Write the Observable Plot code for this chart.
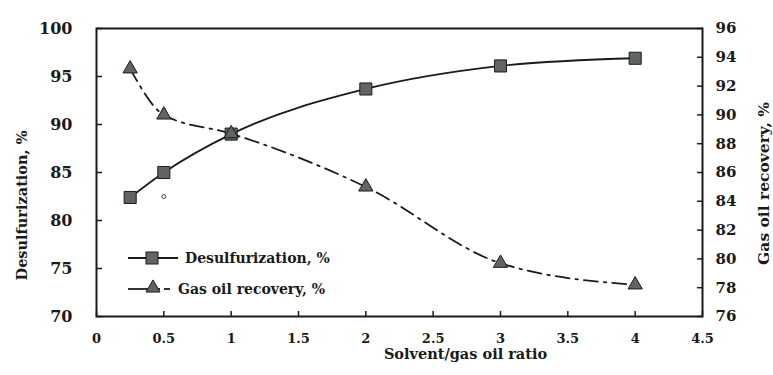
<!DOCTYPE html>
<html><head><meta charset="utf-8">
<script src="https://cdn.jsdelivr.net/npm/d3@7"></script>
<script src="https://cdn.jsdelivr.net/npm/@observablehq/plot@0.6"></script>
<style>
body{margin:0;background:#fff;}
#wrap{position:relative;width:773px;height:375px;font-family:"DejaVu Serif",serif;font-weight:bold;color:#1a1a1a;}
#legend{position:absolute;left:124px;top:244px;}
</style></head><body>
<div id="wrap"><div id="chart"></div><div id="legend"></div></div>
<script>
// ---- data ----
const ratio = [0.25, 0.5, 1, 2, 3, 4];
const desulfurization = [82.4, 85, 89, 93.7, 96.1, 96.9];
const gasOilRecovery = [93.2, 90, 88.7, 85, 79.7, 78.2];
const xTicks = [0, 0.5, 1, 1.5, 2, 2.5, 3, 3.5, 4, 4.5];
const leftTicks = [70, 75, 80, 85, 90, 95, 100];
const rightTicks = [76, 78, 80, 82, 84, 86, 88, 90, 92, 94, 96];
const strayMark = [{x: 0.5, y: 82.5}];
const seriesNames = ["Desulfurization, %", "Gas oil recovery, %"];
const xTitle = "Solvent/gas oil ratio";

// right axis (76–96) mapped onto the left scale (70–100)
const leftDomain = [70, 100], rightDomain = [76, 96];
const k = (leftDomain[1] - leftDomain[0]) / (rightDomain[1] - rightDomain[0]);
const toLeft = g => leftDomain[0] + (g - rightDomain[0]) * k;
const toRight = v => rightDomain[0] + (v - leftDomain[0]) / k;

const dData = ratio.map((x, i) => ({x, y: desulfurization[i]}));
const gData = ratio.map((x, i) => ({x, y: toLeft(gasOilRecovery[i])}));

const ink = "#1a1a1a", fillGray = "#5f6662";
const font = '"DejaVu Serif",serif';

const chart = Plot.plot({
  width: 773, height: 375,
  marginLeft: 96, marginRight: 71, marginTop: 28, marginBottom: 59,
  style: {fontFamily: font, fontWeight: "bold", background: "#fff", color: ink, overflow: "visible"},
  x: {domain: [0, 4.5]},
  y: {domain: leftDomain},
  marks: [
    Plot.axisX(xTicks, {tickSize: -5, tickPadding: 22, fontSize: 13, tickFormat: d => String(d), label: null, strokeWidth: 1.5}),
    Plot.axisY(leftTicks, {tickSize: -6, tickPadding: 30, fontSize: 16, tickFormat: d => String(d), label: null, strokeWidth: 1.5}),
    Plot.axisY(rightTicks.map(toLeft), {anchor: "right", tickSize: -6, tickPadding: 19, fontSize: 15, tickFormat: d => String(Math.round(toRight(d))), label: null, strokeWidth: 1.5}),
    Plot.frame({stroke: ink, strokeWidth: 2}),
    Plot.line(dData, {x: "x", y: "y", curve: "monotone-x", stroke: ink, strokeWidth: 1.8}),
    Plot.line(gData, {x: "x", y: "y", curve: "monotone-x", stroke: ink, strokeWidth: 1.8, strokeDasharray: "14,6,2.5,6"}),
    Plot.dot(dData, {x: "x", y: "y", symbol: "square", r: 6.8, fill: fillGray, stroke: ink, strokeWidth: 1}),
    Plot.dot(gData, {x: "x", y: "y", symbol: "triangle", r: 5.3, fill: fillGray, stroke: ink, strokeWidth: 1}),
    Plot.dot(strayMark, {x: "x", y: "y", r: 2, fill: "none", stroke: ink, strokeWidth: 0.8}),
    Plot.text([seriesNames[0]], {frameAnchor: "left", textAnchor: "middle", rotate: -90, dx: -74, dy: 33, fontSize: 14.5, fontWeight: "bold", fill: ink}),
    Plot.text([seriesNames[1]], {frameAnchor: "right", textAnchor: "middle", rotate: -90, dx: 62, dy: 11, fontSize: 15.5, fontWeight: "bold", fill: ink}),
    Plot.text([xTitle], {frameAnchor: "bottom", textAnchor: "middle", dx: 66, dy: 42, fontSize: 14.5, fontWeight: "bold", fill: ink})
  ]
});
document.getElementById("chart").appendChild(chart);

// ---- legend ----
const svg = d3.select("#legend").append("svg").attr("width", 260).attr("height", 60)
  .style("font-family", font).style("font-weight", "bold").style("font-size", "14px");
const r1 = 14, r2 = 45;
svg.append("line").attr("x1", 4).attr("x2", 54).attr("y1", r1).attr("y2", r1).attr("stroke", ink).attr("stroke-width", 1.8);
svg.append("rect").attr("x", 22).attr("y", r1 - 6).attr("width", 12).attr("height", 12).attr("fill", fillGray).attr("stroke", ink);
svg.append("text").attr("x", 61).attr("y", r1 + 5).attr("fill", ink).text(seriesNames[0]);
svg.append("line").attr("x1", 4).attr("x2", 36).attr("y1", r2).attr("y2", r2).attr("stroke", ink).attr("stroke-width", 1.8);
svg.append("path").attr("d", d3.symbol(d3.symbolTriangle, 85)()).attr("transform", `translate(29,${r2 - 1})`).attr("fill", fillGray).attr("stroke", ink);
svg.append("line").attr("x1", 40).attr("x2", 46).attr("y1", r2).attr("y2", r2).attr("stroke", ink).attr("stroke-width", 1.8);
svg.append("text").attr("x", 54).attr("y", r2 + 5).attr("fill", ink).text(seriesNames[1]);
</script>
</body></html>
